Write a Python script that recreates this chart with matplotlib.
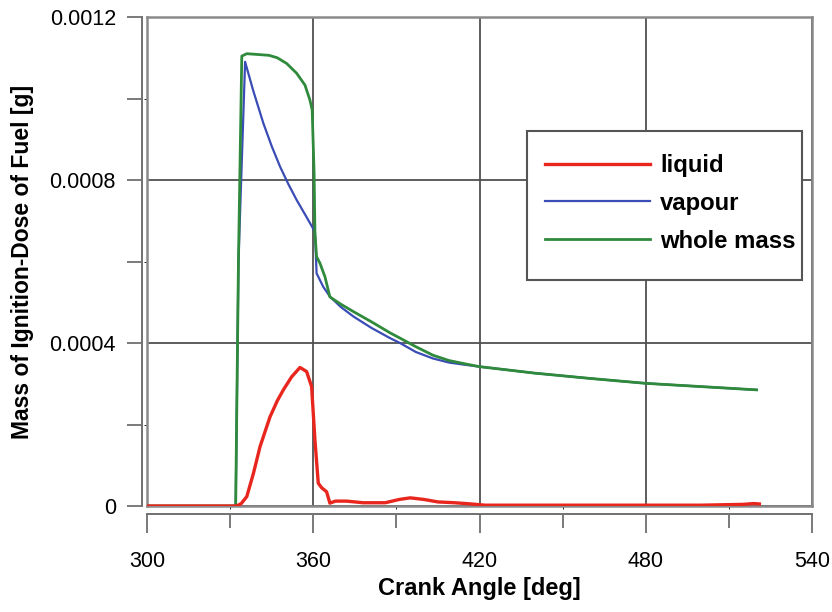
import numpy as np
import matplotlib.pyplot as plt
from matplotlib.ticker import MultipleLocator
from matplotlib.patches import Rectangle

plt.rcParams['font.family'] = ['Liberation Sans', 'DejaVu Sans']

# Data (crank angle in deg, mass in g)
crank_liquid = [300, 332.4, 334, 336, 338.4, 340.8, 344.4, 347, 349.2, 352.2, 355.2,
                357.6, 359.4, 360.6, 361.8, 363, 364.8, 366, 368, 372, 378, 386,
                391, 395, 400, 405, 411, 417, 422, 440, 470, 500, 515, 519, 521]
liquid = [0, 0, 0.000006, 0.000023, 0.00008, 0.000146, 0.000219, 0.000258, 0.000285,
          0.000317, 0.00034, 0.00033, 0.000293, 0.000162, 0.000056, 0.000045,
          0.000035, 0.000007, 0.000012, 0.000012, 0.000008, 0.000008, 0.000016,
          0.00002, 0.000016, 0.00001, 0.000008, 0.000005, 0.000002, 0.000002,
          0.000002, 0.000002, 0.000004, 0.000006, 0.000005]

crank_vapour = [300, 332, 333, 335.4, 338.3, 342, 345, 348, 351, 354, 357.5, 360.6,
                361.2, 363.6, 366, 370, 374.5, 381, 387.7, 391.3, 397, 403.2, 409,
                415.4, 420, 440, 460, 480, 500, 520]
vapour = [0, 0, 0.0006, 0.00109, 0.00102, 0.000939, 0.000883, 0.000833, 0.00079,
          0.000751, 0.00071, 0.000673, 0.000571, 0.000538, 0.000514, 0.000488,
          0.000465, 0.000437, 0.000412, 0.0004, 0.000378, 0.000362, 0.000352,
          0.000346, 0.000342, 0.000326, 0.000313, 0.000301, 0.000293, 0.000285]

crank_whole = [300, 332, 333, 334.2, 336, 340, 344, 347, 350.4, 354, 357, 358.8,
               359.6, 360.3, 360.6, 361.2, 362.4, 364.2, 366, 370, 374.5, 381,
               387.7, 391.3, 397, 403.2, 409, 415.4, 420, 440, 460, 480, 500, 520]
whole = [0, 0, 0.0006, 0.001104, 0.00111, 0.001108, 0.001106, 0.0011, 0.001086,
         0.001062, 0.001033, 0.000996, 0.000972, 0.000817, 0.00067, 0.000612,
         0.000596, 0.000563, 0.000513, 0.000495, 0.000477, 0.000452, 0.000425,
         0.000412, 0.000391, 0.00037, 0.000357, 0.000348, 0.000342, 0.000326,
         0.000313, 0.000301, 0.000293, 0.000285]

rect = [0.1767, 0.1732, 0.7993, 0.799]
fig = plt.figure(figsize=(8.32, 6.12), dpi=100)

# plot area with frame and grid
ax = fig.add_axes(rect)
ax.plot(crank_liquid, liquid, color='#e8261e', lw=2.4, label='liquid', zorder=5)
ax.plot(crank_vapour, vapour, color='#3a4cb5', lw=1.6, label='vapour', zorder=3)
ax.plot(crank_whole, whole, color='#2f8a3c', lw=2.0, label='whole mass', zorder=4)
ax.set_xlim(300, 540)
ax.set_ylim(0, 0.0012)
ax.set_xticks([360, 420, 480])
ax.set_yticks([0.0004, 0.0008])
ax.tick_params(length=0, labelbottom=False, labelleft=False)
ax.grid(True, color='#505050', lw=1.3)
for s in ax.spines.values():
    s.set_color('#8a8a8a')
    s.set_linewidth(1.8)

# legend box
ax.add_patch(Rectangle((0.5714, 0.4622), 0.4135, 0.3047, transform=ax.transAxes,
                       facecolor='white', edgecolor='#555555', lw=1.5, zorder=9))
leg = ax.legend(loc='upper left', bbox_to_anchor=(0.5985, 0.72), frameon=False,
                prop={'weight': 'bold', 'size': 17.2},
                handlelength=4.4, handletextpad=0.42, labelspacing=0.62,
                borderpad=0, borderaxespad=0)
leg.set_zorder(10)

# detached axes lines
axs = fig.add_axes(rect, sharex=ax, sharey=ax)
axs.patch.set_visible(False)
axs.spines['top'].set_visible(False)
axs.spines['right'].set_visible(False)
axs.spines['left'].set_position(('outward', 3.6))
axs.spines['bottom'].set_position(('outward', 5.8))
for s in ['left', 'bottom']:
    axs.spines[s].set_color('#707070')
    axs.spines[s].set_linewidth(1.4)
axs.xaxis.set_major_locator(MultipleLocator(60))
axs.xaxis.set_minor_locator(MultipleLocator(30))
axs.yaxis.set_minor_locator(MultipleLocator(0.0002))
axs.set_yticks([0, 0.0004, 0.0008, 0.0012])
axs.set_yticklabels(['0', '0.0004', '0.0008', '0.0012'])
axs.tick_params(axis='x', which='major', length=13.5, width=1.3, color='#707070',
                pad=13, labelsize=15.5)
axs.tick_params(axis='x', which='minor', length=10, width=1.3, color='#707070')
axs.tick_params(axis='y', which='both', length=10.8, width=1.3, color='#707070',
                pad=8, labelsize=15.5)
axs.set_xlabel('Crank Angle [deg]', fontsize=17, fontweight='bold', labelpad=4)
axs.set_ylabel('Mass of Ignition-Dose of Fuel [g]', fontsize=16.5, fontweight='bold',
               labelpad=11)

fig.savefig('out.png', dpi=100)
